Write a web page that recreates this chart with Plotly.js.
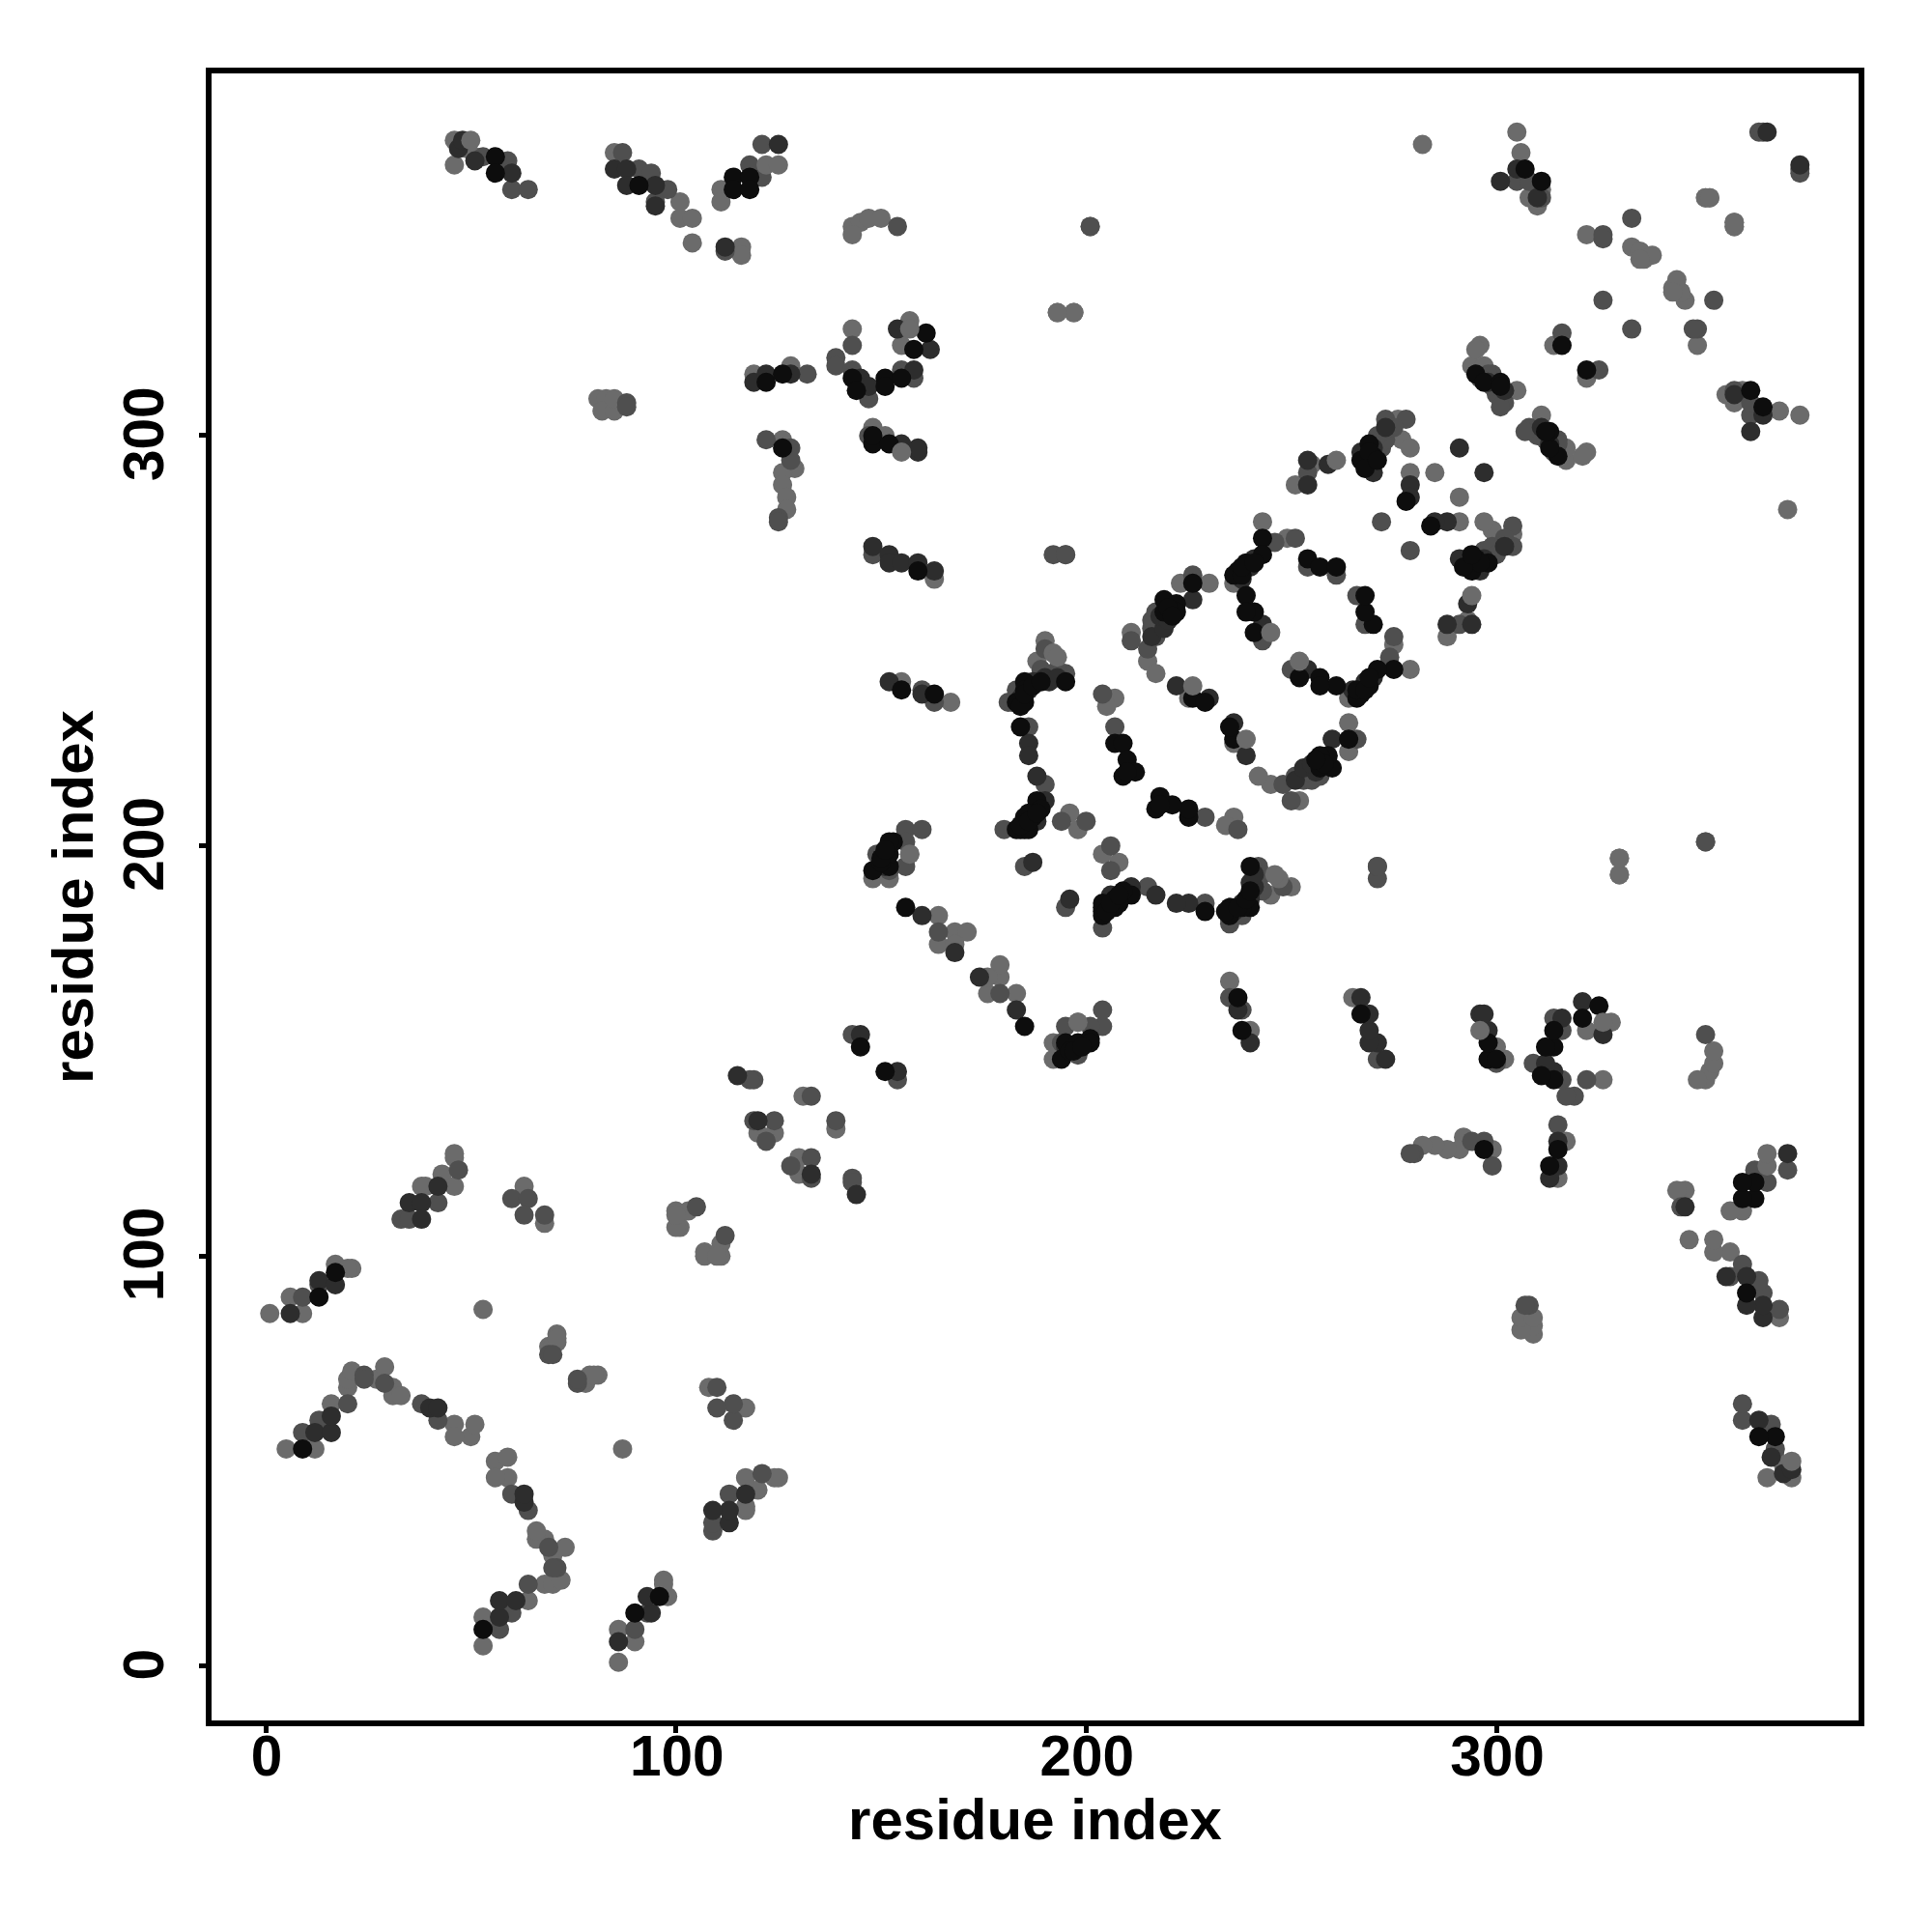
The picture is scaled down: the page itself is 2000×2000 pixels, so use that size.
<!DOCTYPE html>
<html><head><meta charset="utf-8">
<script src="https://cdn.plot.ly/plotly-3.0.1.min.js"></script>
<style>html,body{margin:0;padding:0;background:#fff}</style></head>
<body><div id="chart" style="width:2000px;height:2000px"></div>
<script>
// residue contact pairs [i, j], i < j; the map is symmetric so each pair is drawn at (i,j) and (j,i)
const lightPairs=[[1,86],[9,86],[6,90],[17,98],[21,97],[20,97],[5,53],[10,54],[12,53],[16,64],[20,68],[20,70],[21,72],[27,70],[29,73],[31,68],[31,66],[33,66],[46,59],[50,56],[51,59],[46,56],
[53,87],[71,81],[71,79],[69,78],[70,78],[71,80],[63,117],[68,108],[38,117],[43,120],[46,117],[46,124],[46,125],[39,117],[100,111],[101,107],[103,111],[100,107],[100,110],[120,130],[124,130],[131,139],
[46,366],[46,372],[49,370],[51,368],[85,369],[101,357],[101,353],[104,353],[104,347],[111,360],[111,357],[116,346],[116,344],[143,351],[145,352],[147,353],[150,353],[143,349],
[201,351],[193,330],[197,330],[143,326],[119,315],[128,317],[157,328],[155,322],[148,302],[151,300],[126,299],[129,292],[126,291],[126,288],[127,285],[127,282],[163,265],
[81,309],[83,309],[82,306],[85,306],[85,309],[155,240],[167,235],[190,250],[188,245],[207,236],[205,234],[196,208],[198,204],[148,192],[152,192],[157,198],[164,183],[168,179],[171,179],[164,176],[168,176],
[211,252],[215,245],[217,242],[223,264],[225,236],[230,264],[236,264],[243,279],[249,275],[251,288],[255,293],[276,304],[275,300],[277,299],[279,297],[279,291],[285,291],
[305,374],[306,369],[308,358],[282,371],[322,349],[333,346],[335,345],[336,343],[338,344],[335,343],[351,358],[352,358],[358,351],[358,352],[314,322],[296,322],[294,317],[305,311],[310,356],[311,360],[295,321],[297,317],[301,309],[330,197],[330,193]];
const mediumPairs=[[13,93],[9,90],[9,57],[13,60],[20,64],[24,71],[24,70],[29,69],[38,64],[42,60],[69,76],[70,76],[60,114],[64,114],[63,110],[68,110],[33,109],[35,109],[42,113],[47,121],[105,112],[124,133],[122,128],[133,139],[143,154],[119,143],[118,143],[119,133],
[53,368],[59,367],[60,360],[64,360],[87,369],[91,365],[94,364],[98,360],[95,357],[121,371],[118,366],[121,363],[112,345],[154,351],[143,322],[139,319],[139,317],[132,315],[143,316],[147,309],[155,316],[158,314],
[147,300],[122,299],[128,297],[128,294],[125,280],[125,279],[148,271],[192,271],[195,271],[88,308],[88,307],[160,238],[163,235],[180,204],[181,235],[183,238],[182,235],[186,229],[190,215],[204,237],[207,229],[200,206],[194,206],[185,195],
[156,204],[160,204],[149,198],[156,201],[156,195],[152,194],[164,179],[195,242],[190,248],[217,257],[216,253],[217,251],[211,250],[215,248],[246,274],[251,275],[254,268],[261,266],[243,250],[351,201],[226,266],[195,271],[254,291],[272,297],[272,279],[273,304],[278,304],[273,299],[311,358],[316,325],[299,315],[298,315],[300,310],[302,308],[301,307],[326,349],[326,348],[326,333],[333,353],[305,362],[308,362],[364,374],[365,374],
[192,241],[193,243],[189,243],[216,255],[218,254],[271,300],[275,302],[296,314],[299,312]];
const darkPairs=[[6,86],[13,94],[17,93],[12,57],[16,57],[16,61],[40,63],[42,63],[35,113],[38,113],[38,109],[42,117],[115,144],[120,133],[145,154],[47,370],[48,372],[51,367],[60,364],[85,365],[88,365],[88,361],[95,361],[95,356],[125,371],[112,346],[128,315],[119,313],[122,315],[145,314],[147,312],[154,326],[162,321],[158,316],
[155,298],[159,296],[159,297],[148,273],[152,271],[152,269],[155,269],[159,269],[163,267],[152,240],[160,237],[191,240],[187,240],[186,225],[186,222],[188,217],[190,211],[160,183],[168,174],[187,196],[186,239],[216,251],[219,253],[226,260],[222,239],[230,236],[241,270],[243,254],
[254,294],[259,293],[254,288],[270,291],[267,296],[279,288],[279,285],[291,297],[305,365],[301,362],[310,358],[302,311],[366,374],
[184,236],[186,238],[188,240],[190,241],[193,241],[185,206],[188,206],[218,256],[220,255],[240,268],[238,265],[268,296],[270,297],[273,302],[298,313],[151,195]];
const blackPairs=[[13,90],[17,96],[9,53],[145,151],[56,368],[56,364],[91,361],[114,363],[118,363],[114,360],[118,360],[122,313],[126,315],[143,314],[144,311],[151,314],[151,312],[155,314],[158,321],[161,325],
[148,298],[148,300],[152,298],[159,267],[126,297],[155,238],[163,237],[184,229],[185,240],[185,238],[183,235],[185,235],[184,234],[195,240],[188,211],[189,209],[187,207],[185,207],[184,204],[185,204],[186,208],[183,204],[186,204],[207,225],[209,225],[210,221],[209,217],[212,218],[210,218],
[148,194],[152,195],[152,198],[153,201],[152,201],[156,185],[150,196],[219,260],[222,259],[219,257],[222,257],[226,264],[226,236],[229,235],[243,275],[243,271],[239,269],[237,267],[236,266],[238,266],[254,270],[257,268],[261,268],[239,261],[241,257],[239,257],[241,252],
[269,298],[268,294],[270,295],[278,284],[311,362],[307,365],[295,315],[297,313],[301,313],[301,312],[316,322],
[185,237],[187,239],[189,240],[184,205],[186,206],[188,208],[220,258],[221,256],[238,268],[241,269],[267,294],[269,296],[268,292],[271,294],[150,197],[151,199]];
const overlayPairs=[[50,372],[122,366],[125,366],[157,326],[155,296],[245,252],[192,247],[193,246],[226,239],[261,294],[157,198]];
const groupColors=["#6b6b6b","#4f4f4f","#2d2d2d","#0d0d0d","#6b6b6b"];
const tickValues=[0,100,200,300];
const tickLabels=["0","100","200","300"];
const axisLabel="residue index";

const groups=[lightPairs,mediumPairs,darkPairs,blackPairs,overlayPairs];
const traces=groups.map((g,k)=>({
  type:"scatter",mode:"markers",
  x:g.map(p=>p[0]).concat(g.map(p=>p[1])),
  y:g.map(p=>p[1]).concat(g.map(p=>p[0])),
  marker:{size:20,color:groupColors[k],line:{width:0}},
  hoverinfo:"skip",showlegend:false
}));
const tickFont={family:"Liberation Sans, Arial, sans-serif",size:58.5,color:"#000",weight:700};
const titleFont={family:"Liberation Sans, Arial, sans-serif",size:60,color:"#000",weight:700};
const axisBase={showgrid:false,zeroline:false,showline:true,linecolor:"#000",linewidth:6,mirror:true,
  ticks:"outside",ticklen:7,tickwidth:5,tickcolor:"#000",tickvals:tickValues,ticktext:tickLabels,tickfont:tickFont,automargin:false};
Plotly.newPlot("chart",traces,{
  width:2000,height:2000,showlegend:false,paper_bgcolor:"#fff",plot_bgcolor:"#fff",
  margin:{l:219,r:76,t:76,b:219,pad:0},
  xaxis:Object.assign({},axisBase,{range:[-13.19,388.3],automargin:true,ticklabelstandoff:-26,ticklabelshift:1,title:{text:axisLabel,font:titleFont,standoff:10}}),
  yaxis:Object.assign({},axisBase,{range:[-13.19,388.3],tickangle:-90,ticklabelstandoff:14,ticklabelshift:7,title:{text:axisLabel,font:titleFont,standoff:2}})
},{displayModeBar:false,responsive:false});
</script></body></html>
